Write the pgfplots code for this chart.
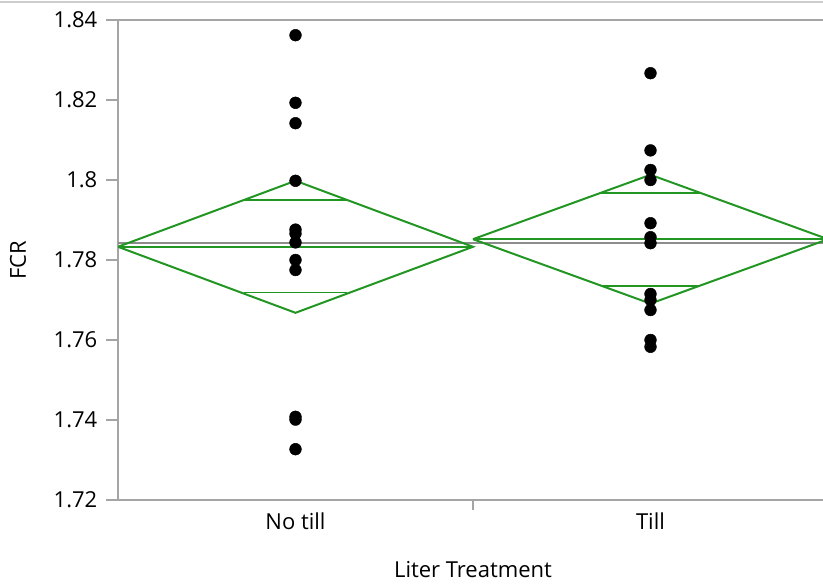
\documentclass[border=0pt]{standalone}
\usepackage{pgfplots}
\pgfplotsset{compat=1.18}
\usepackage{fontspec}
\setmainfont{Open Sans}
\definecolor{jgreen}{RGB}{34,150,34}
\definecolor{axgray}{RGB}{165,165,165}
\definecolor{mgray}{RGB}{140,140,140}
\begin{document}
\begin{tikzpicture}[x=1pt,y=1pt]
\path[use as bounding box] (-88.5,-63) rectangle (528.75,375);
\clip (-88.5,-63) rectangle (528.75,375);
\draw[color=black!20, line width=2.2pt] (-88.5,373.5) -- (528.75,373.5);
\begin{axis}[
  at={(0,0)}, anchor=south west, scale only axis,
  width=532.5pt, height=360pt,
  xmin=-0.5, xmax=1.5, ymin=1.72, ymax=1.84,
  axis line style={axgray, line width=1.5pt},
  tick style={axgray, line width=1.2pt},
  tick align=outside,
  major tick length=9pt,
  ytick={1.72,1.74,1.76,1.78,1.80,1.82,1.84},
  yticklabels={1.72,1.74,1.76,1.78,1.8,1.82,1.84},
  ytick pos=left,
  xtick={0,1},
  xticklabels={No till,Till},
  x tick style={draw=none},
  extra x ticks={0.5},
  extra x tick labels={},
  extra x tick style={x tick style={draw=axgray, line width=1.2pt}, major tick length=7.5pt, xtick pos=bottom},
  xtick pos=bottom,
  font=\fontsize{16.5}{19}\selectfont,
  ticklabel style={font=\fontsize{16.5}{19}\selectfont},
  yticklabel style={xshift=-3pt},
  xticklabel style={anchor=center, yshift=-6.75pt},
  ylabel={FCR},
  xlabel={Liter Treatment},
  every axis y label/.style={at={(axis description cs:-0.1408,0.5)}, anchor=center, rotate=90},
  every axis x label/.style={at={(axis description cs:0.5,-0.1458)}, anchor=center},
  clip=true,
]
% grand mean
\addplot[mgray, line width=1.5pt] coordinates {(-0.5,1.7843) (1.5,1.7843)};
% No till diamond
\addplot[jgreen, line width=1.5pt] coordinates {(-0.5,1.7833) (0,1.7998) (0.5,1.7833) (0,1.7668) (-0.5,1.7833)};
\addplot[jgreen, line width=1.5pt] coordinates {(-0.5,1.7833) (0.5,1.7833)};
\addplot[jgreen, line width=1.3pt] coordinates {(-0.1455,1.7950) (0.1455,1.7950)};
\addplot[jgreen, line width=1.3pt] coordinates {(-0.1455,1.77185) (0.1455,1.77185)};
% Till diamond
\addplot[jgreen, line width=1.5pt] coordinates {(0.5,1.7852) (1,1.8013) (1.5,1.7852) (1,1.7691) (0.5,1.7852)};
\addplot[jgreen, line width=1.5pt] coordinates {(0.5,1.7852) (1.5,1.7852)};
\addplot[jgreen, line width=1.3pt] coordinates {(0.86,1.7968) (1.14,1.7968)};
\addplot[jgreen, line width=1.3pt] coordinates {(0.86,1.7735) (1.14,1.7735)};
% points
\addplot[only marks, mark=*, mark size=4.4pt, black] coordinates {
(0,1.8362) (0,1.8193) (0,1.8142) (0,1.7998) (0,1.7876) (0,1.7866) (0,1.7844) (0,1.7800) (0,1.7775) (0,1.7408) (0,1.7401) (0,1.7327)
};
\addplot[only marks, mark=*, mark size=4.4pt, black] coordinates {
(1,1.8267) (1,1.8074) (1,1.8025) (1,1.8000) (1,1.7892) (1,1.7857) (1,1.7842) (1,1.7715) (1,1.7700) (1,1.7675) (1,1.7600) (1,1.7583)
};
\end{axis}
\end{tikzpicture}
\end{document}
